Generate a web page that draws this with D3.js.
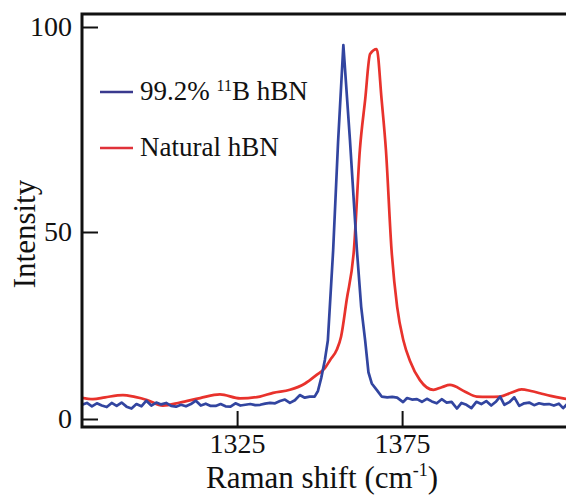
<!DOCTYPE html>
<html>
<head>
<meta charset="utf-8">
<script src="https://cdn.jsdelivr.net/npm/d3@7"></script>
<style>
  body { margin: 0; background: #fff; }
  svg { display: block; }
  text { font-family: "Liberation Serif", "Times New Roman", serif; fill: #111; }
</style>
</head>
<body>
<div id="chart"></div>
<script>
// Raman shift (cm-1) and intensity
var blueShift = [1278, 1279.5, 1281, 1282.5, 1284, 1285.5, 1287, 1288.5, 1290, 1291.5, 1293, 1294.5, 1296, 1297.5, 1299, 1300.5, 1302, 1303.5, 1305, 1306.5, 1308, 1309.5, 1311, 1312.5, 1314, 1315.5, 1317, 1318.5, 1320, 1321.5, 1323, 1324.5, 1326, 1327.5, 1329, 1330.5, 1332, 1333.5, 1335, 1336.5, 1338, 1339.5, 1341, 1342.5, 1344, 1345.5, 1347, 1348.5, 1349.5, 1350.5, 1351.6, 1352.5, 1354.1, 1355.6, 1357.2, 1359.2, 1361.3, 1362.6, 1363.8, 1364.8, 1365.8, 1367.3, 1368.8, 1370.5, 1372, 1373.5, 1375.3, 1376.5, 1378, 1379.5, 1381, 1382.5, 1384, 1385.5, 1387, 1388.5, 1390, 1391.6, 1393, 1394.5, 1396, 1397.5, 1399, 1400.5, 1402, 1403.5, 1404.7, 1406, 1407.5, 1409, 1410.5, 1412, 1413.5, 1415, 1416.5, 1418, 1419.5, 1421, 1422.5, 1423.8, 1425, 1426.5];
var blueIntensity = [3.8, 4.3, 3.4, 4.2, 3.6, 3.2, 4.3, 3.5, 4.4, 3.3, 2.8, 4.0, 3.4, 4.9, 3.6, 4.4, 3.9, 4.3, 3.5, 3.3, 3.8, 3.4, 4.0, 4.9, 3.6, 4.1, 3.5, 3.5, 4.0, 3.4, 3.3, 4.2, 3.6, 3.8, 4.0, 3.7, 3.8, 4.1, 4.3, 4.2, 4.8, 5.2, 4.3, 5.0, 6.4, 5.7, 6.0, 6.0, 7.5, 11, 15.8, 21, 45, 72, 95.6, 72.4, 45.2, 30, 21, 12.5, 9.5, 7.8, 6.0, 5.8, 5.9, 5.7, 4.5, 5.6, 5.2, 5.3, 4.6, 5.4, 4.7, 4.2, 5.3, 4.4, 4.6, 2.8, 4.3, 3.8, 2.9, 4.6, 4.0, 4.8, 3.6, 4.7, 6.0, 3.8, 4.5, 5.8, 3.5, 4.2, 4.4, 3.7, 4.2, 3.9, 4.0, 3.6, 4.1, 2.9, 4.0, 3.8];

var redShift = [1277, 1281.3, 1285, 1290.4, 1294, 1297.7, 1302.5, 1307.7, 1313.8, 1319.8, 1325.9, 1331.9, 1335.9, 1341, 1345.6, 1349.1, 1351.6, 1353.2, 1355.2, 1356.5, 1358.2, 1360.4, 1362.2, 1363.8, 1365.3, 1367.3, 1368.8, 1370.1, 1371.8, 1373.5, 1375.4, 1377.4, 1380.4, 1384.5, 1387, 1389.5, 1394.1, 1397.6, 1401, 1404.7, 1408, 1411.2, 1414, 1416.8, 1420, 1423.8, 1427];
var redIntensity = [5.8, 5.3, 5.8, 6.4, 5.9, 5.1, 3.6, 4.4, 5.6, 6.6, 5.5, 6.0, 7.0, 7.8, 9.5, 11.8, 13.6, 15.8, 18.5, 22, 31.8, 45.2, 70, 82.2, 93.4, 94.6, 82.2, 70, 45.2, 30, 21, 15.5, 10.4, 7.8, 8.5, 9.1, 7.3, 6.0, 5.9, 6.0, 7.0, 7.9, 7.5, 6.9, 6.2, 5.5, 5.0];

var seriesNames = ["99.2% ", "Natural hBN"];
var xTicks = [1325, 1375];
var yTicks = [0, 50, 100];

var width = 566, height = 495;
var plotLeft = 82, plotTop = 14, plotBottom = 427;

var svg = d3.select("#chart").append("svg")
    .attr("width", width)
    .attr("height", height);

var x = d3.scaleLinear().domain([1278, 1426]).range([plotLeft, plotLeft + 148 * 3.3]);
// the y ticks in the original are not evenly spaced
var y = d3.scaleLinear().domain([0, 50, 100]).range([419, 232, 27]);

var blueData = blueShift.map(function(d, i) { return [d, blueIntensity[i]]; });
var redData = redShift.map(function(d, i) { return [d, redIntensity[i]]; });

svg.append("clipPath").attr("id", "plot")
    .append("rect")
    .attr("x", plotLeft).attr("y", plotTop)
    .attr("width", width - plotLeft).attr("height", plotBottom - plotTop);

var line = d3.line()
    .x(function(d) { return x(d[0]); })
    .y(function(d) { return y(d[1]); });

svg.append("path")
    .datum(redData)
    .attr("clip-path", "url(#plot)")
    .attr("fill", "none")
    .attr("stroke", "#e8322c")
    .attr("stroke-width", 2.7)
    .attr("stroke-linejoin", "round")
    .attr("d", line.curve(d3.curveMonotoneX));

svg.append("path")
    .datum(blueData)
    .attr("clip-path", "url(#plot)")
    .attr("fill", "none")
    .attr("stroke", "#3245a0")
    .attr("stroke-width", 2.7)
    .attr("stroke-linejoin", "round")
    .attr("d", line.curve(d3.curveLinear));

// axes with inward ticks
var yAxis = svg.append("g")
    .attr("transform", "translate(" + plotLeft + ",0)")
    .call(d3.axisLeft(y).tickValues(yTicks).tickSize(-16).tickPadding(10));
var xAxis = svg.append("g")
    .attr("transform", "translate(0," + plotBottom + ")")
    .call(d3.axisBottom(x).tickValues(xTicks).tickFormat(d3.format("d")).tickSize(-16).tickPadding(6));

[yAxis, xAxis].forEach(function(g) {
    g.attr("font-family", "Liberation Serif");
    g.select(".domain").remove();
    g.selectAll(".tick line").attr("stroke", "#111").attr("stroke-width", 2);
    g.selectAll(".tick text")
        .style("font-family", "Liberation Serif")
        .style("font-size", "28px")
        .attr("fill", "#111");
});

// frame: left, top and bottom (right side is cut off)
svg.append("path")
    .attr("fill", "none")
    .attr("stroke", "#111")
    .attr("stroke-width", 3)
    .attr("d", "M" + (width + 5) + "," + plotTop + "H" + plotLeft + "V" + plotBottom + "H" + (width + 5));

// legend
var legend = svg.append("g");
var legendColors = ["#3a3a8e", "#e0323a"];
var legendY = [92, 148];
legendColors.forEach(function(c, i) {
    legend.append("line")
        .attr("x1", 100).attr("x2", 133)
        .attr("y1", legendY[i]).attr("y2", legendY[i])
        .attr("stroke", c).attr("stroke-width", 2.5);
});
var t1 = legend.append("text")
    .attr("x", 140).attr("y", legendY[0] + 8)
    .style("font-size", "27px");
t1.append("tspan").text(seriesNames[0]);
t1.append("tspan").attr("dy", -9).style("font-size", "16px").text("11");
t1.append("tspan").attr("dy", 9).text("B hBN");
legend.append("text")
    .attr("x", 140).attr("y", legendY[1] + 8)
    .style("font-size", "27px")
    .text(seriesNames[1]);

// axis titles
var xt = svg.append("text")
    .attr("x", 322).attr("y", 488)
    .attr("text-anchor", "middle")
    .style("font-size", "31px");
xt.append("tspan").text("Raman shift (cm");
xt.append("tspan").attr("dy", -12).style("font-size", "18px").text("-1");
xt.append("tspan").attr("dy", 12).text(")");

svg.append("text")
    .attr("transform", "translate(35,234) rotate(-90)")
    .attr("text-anchor", "middle")
    .style("font-size", "31px")
    .text("Intensity");
</script>
</body>
</html>
